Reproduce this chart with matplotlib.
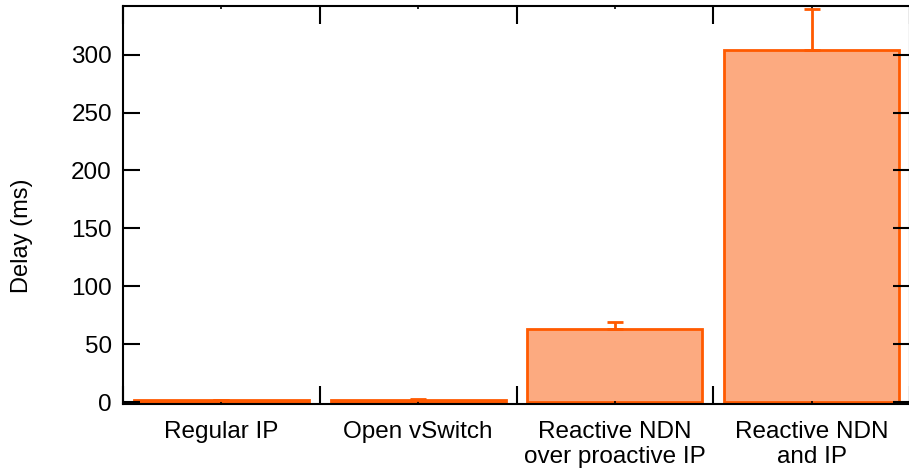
import matplotlib.pyplot as plt

categories = ["Regular IP", "Open vSwitch", "Reactive NDN\nover proactive IP", "Reactive NDN\nand IP"]
delays = [1.5, 1.6, 63, 304]
errors = [0.6, 0.8, 6, 35]

plt.rcParams['font.family'] = ['Liberation Sans', 'DejaVu Sans']

fig = plt.figure(figsize=(9.09, 4.72), dpi=100)
# right spine sits just past the image edge, as in the original
ax = fig.add_axes([123 / 909, 68 / 472, 787 / 909, 398 / 472])

x = list(range(len(categories)))
ax.bar(x, delays, width=0.89, color='#fcaa80', edgecolor='#ff5a00', linewidth=2,
       yerr=[[0] * len(errors), errors], capsize=5.5,
       error_kw=dict(ecolor='#ff5a00', elinewidth=2, capthick=2))

ax.set_xlim(-0.5, 3.5)
ax.set_ylim(-1.7, 342)
ax.set_yticks([0, 50, 100, 150, 200, 250, 300])

# long ticks at the group boundaries, short ticks under each label
ax.set_xticks([-0.5, 0.5, 1.5, 2.5, 3.5])
ax.set_xticklabels([])
ax.set_xticks(x, minor=True)
ax.set_xticklabels(categories, minor=True)

ax.tick_params(axis='x', which='major', direction='in', length=13, width=1.5, top=True)
ax.tick_params(axis='x', which='minor', direction='in', length=2, width=1.2, top=True,
               labelsize=17.5, pad=12)
ax.tick_params(axis='y', direction='in', length=12, width=1.5, right=True, labelsize=17.5, pad=8)
for lab in ax.get_xticklabels(minor=True):
    lab.set_linespacing(1.2)

for s in ax.spines.values():
    s.set_linewidth(1.5)

ax.set_ylabel("Delay (ms)", fontsize=17)
ax.yaxis.set_label_coords(33 / 909, 0.5, transform=fig.transFigure)

fig.savefig("out.png", dpi=100)
